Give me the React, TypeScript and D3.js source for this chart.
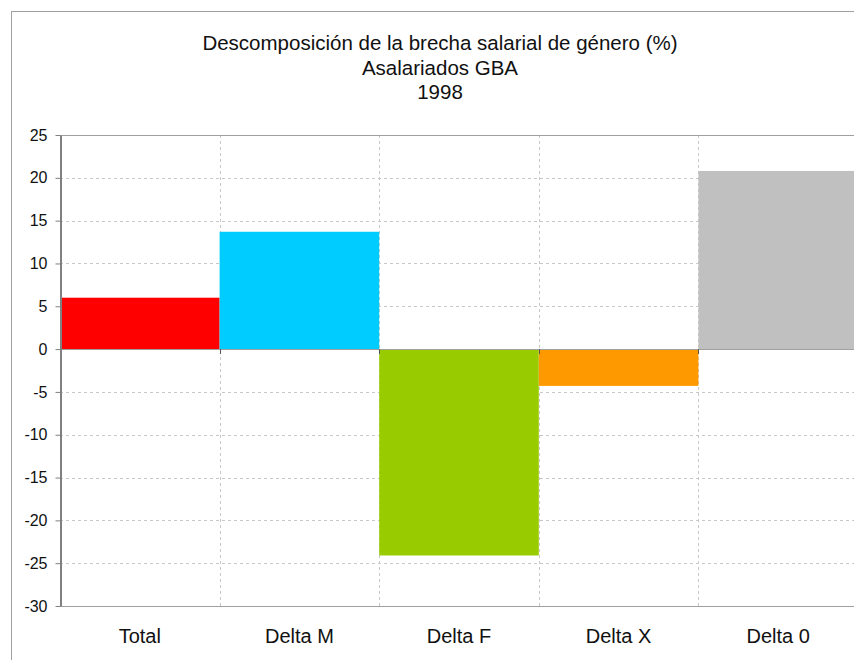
import * as d3 from "d3";
import { useRef, useEffect } from "react";

const categories = ["Total", "Delta M", "Delta F", "Delta X", "Delta 0"];
const values = [6.0, 13.7, -24.1, -4.3, 20.8];
const colors = ["#ff0000", "#00ccff", "#99cc00", "#ff9900", "#c0c0c0"];
const yTicks = [25, 20, 15, 10, 5, 0, -5, -10, -15, -20, -25, -30];
const titleLines = [
  "Descomposición de la brecha salarial de género (%)",
  "Asalariados GBA",
  "1998",
];

function App() {
  const chartRef = useRef<SVGSVGElement>(null);
  const width = 854;
  const height = 660;

  useEffect(() => {
    const svg = d3.select(chartRef.current);
    svg.selectAll("*").remove();

    const margin = { left: 60, right: -4, top: 135, bottom: 54 };
    const font = "Liberation Sans, Arial, sans-serif";

    // outer chart frame
    svg
      .append("rect")
      .attr("x", 11.5)
      .attr("y", 11.5)
      .attr("width", 900)
      .attr("height", 700)
      .attr("fill", "#fff")
      .attr("stroke", "#a0a0a0");

    const x = d3
      .scaleBand()
      .domain(categories)
      .range([margin.left, width - margin.right])
      .padding(0);

    const y = d3
      .scaleLinear()
      .domain([-30, 25])
      .range([height - margin.bottom, margin.top]);

    // title
    svg
      .append("g")
      .selectAll("text")
      .data(titleLines)
      .join("text")
      .attr("x", 440)
      .attr("y", (d, i) => 50 + i * 24.5)
      .attr("text-anchor", "middle")
      .attr("font-family", font)
      .attr("font-size", 20.5)
      .attr("fill", "#111")
      .text((d) => d);

    // grid
    const grid = svg.append("g");
    grid
      .selectAll("line.h")
      .data(yTicks.filter((t) => t !== 0 && t !== 25 && t !== -30))
      .join("line")
      .attr("class", "h")
      .attr("x1", margin.left)
      .attr("x2", width)
      .attr("y1", (d) => Math.round(y(d)) + 0.5)
      .attr("y2", (d) => Math.round(y(d)) + 0.5)
      .attr("stroke", "#c8c8c8")
      .attr("stroke-dasharray", "3,3");

    grid
      .selectAll("line.v")
      .data(categories.slice(1))
      .join("line")
      .attr("class", "v")
      .attr("x1", (d) => Math.round(x(d)!) + 0.5)
      .attr("x2", (d) => Math.round(x(d)!) + 0.5)
      .attr("y1", y(25))
      .attr("y2", y(-30))
      .attr("stroke", "#c8c8c8")
      .attr("stroke-dasharray", "3,3");

    // bars
    svg
      .append("g")
      .selectAll("rect")
      .data(values)
      .join("rect")
      .attr("x", (d, i) => x(categories[i])!)
      .attr("y", (d) => y(Math.max(0, d)))
      .attr("width", x.bandwidth())
      .attr("height", (d) => Math.abs(y(d) - y(0)))
      .attr("fill", (d, i) => colors[i]);

    // plot frame lines (top, bottom, zero)
    const frame = svg.append("g").attr("stroke", "#a0a0a0");
    [25, -30, 0].forEach((v) => {
      frame
        .append("line")
        .attr("x1", margin.left)
        .attr("x2", width)
        .attr("y1", Math.round(y(v)) + 0.5)
        .attr("y2", Math.round(y(v)) + 0.5);
    });

    // x tick marks on zero line
    svg
      .append("g")
      .selectAll("line")
      .data(categories.slice(1))
      .join("line")
      .attr("x1", (d) => Math.round(x(d)!) + 0.5)
      .attr("x2", (d) => Math.round(x(d)!) + 0.5)
      .attr("y1", y(0))
      .attr("y2", y(0) + 5)
      .attr("stroke", "#555");

    // y axis
    const yAxis = svg
      .append("g")
      .attr("transform", `translate(${margin.left + 0.5},0)`)
      .call(
        d3
          .axisLeft(y)
          .tickValues(yTicks)
          .tickFormat((d) => String(d))
          .tickSize(5)
          .tickSizeOuter(0)
          .tickPadding(8)
      );
    yAxis.select(".domain").attr("stroke", "#808080").attr("stroke-width", 2);
    yAxis.selectAll(".tick line").attr("stroke", "#808080");
    yAxis
      .selectAll(".tick text")
      .attr("font-family", font)
      .attr("font-size", 16)
      .attr("fill", "#111");

    // category labels
    svg
      .append("g")
      .selectAll("text")
      .data(categories)
      .join("text")
      .attr("x", (d) => x(d)! + x.bandwidth() / 2)
      .attr("y", 643)
      .attr("text-anchor", "middle")
      .attr("font-family", font)
      .attr("font-size", 20)
      .attr("fill", "#111")
      .text((d) => d);
  }, []);

  return (
    <svg
      ref={chartRef}
      width={width}
      height={height}
      style={{ position: "absolute", left: 0, top: 0 }}
    >
      <title>Descomposición de la brecha salarial de género</title>
    </svg>
  );
}

export default App;
